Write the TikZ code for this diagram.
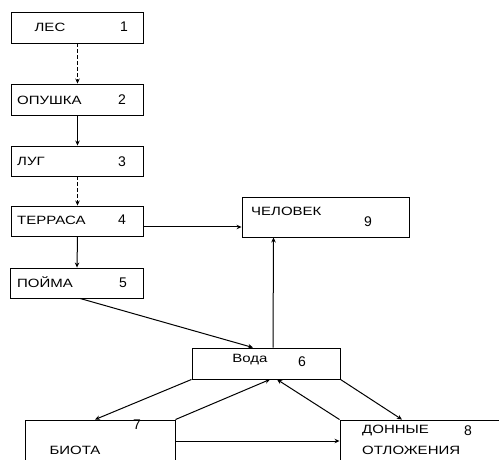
\documentclass[tikz,border=0pt]{standalone}
\usepackage{fontspec}
\setmainfont{Liberation Sans}
\newfontfamily\widefont[FakeStretch=1.25]{Liberation Sans}
\usetikzlibrary{arrows.meta}
\tikzset{
  box/.style={draw, line width=0.9pt, inner sep=0pt},
  lbl/.style={inner sep=0pt, font=\widefont\fontsize{12}{14}\selectfont},
  num/.style={inner sep=0pt, font=\fontsize{14}{16}\selectfont},
  arr/.style={line width=1pt, -{Stealth[length=5pt,width=4.5pt]}},
}
\begin{document}
\begin{tikzpicture}[x=1pt,y=-1pt]
\useasboundingbox (0,0) rectangle (499,460);
\clip (0,0) rectangle (499,460);
% boxes
\node[box, minimum width=132pt, minimum height=31pt] (n1) at (77.5,27.5) {};
\node[box, minimum width=132pt, minimum height=31pt] (n2) at (77.5,99.5) {};
\node[box, minimum width=132pt, minimum height=30pt] (n3) at (77.5,161) {};
\node[box, minimum width=132pt, minimum height=30pt] (n4) at (77.5,221) {};
\node[box, minimum width=133pt, minimum height=30pt] (n5) at (77,283) {};
\node[box, minimum width=167pt, minimum height=40pt] (n9) at (325.5,217) {};
\node[box, minimum width=148pt, minimum height=31pt] (n6) at (266,363.5) {};
\node[box, minimum width=150pt, minimum height=60pt] (n7) at (100,450) {};
\node[box, minimum width=180pt, minimum height=60pt] (n8) at (430,450) {};
% labels
\node[lbl] (t1) at (50,27) {ЛЕС};
\node[num] (d1) at (124,27) {1};
\node[lbl, anchor=west] (t2) at (17,100) {ОПУШКА};
\node[num] (d2) at (122,100) {2};
\node[lbl, anchor=west] (t3) at (17,161) {ЛУГ};
\node[num] (d3) at (122,162) {3};
\node[lbl, anchor=west] (t4) at (17,220) {ТЕРРАСА};
\node[num] (d4) at (122,220) {4};
\node[lbl, anchor=west] (t5) at (17,282) {ПОЙМА};
\node[num] (d5) at (123,283) {5};
\node[lbl, anchor=west] (t9) at (251,211) {ЧЕЛОВЕК};
\node[num] (d9) at (368,222) {9};
\node[lbl] (t6) at (250,360) {Вода};
\node[num] (d6) at (302,362) {6};
\node[lbl] (t7) at (75,450) {БИОТА};
\node[num] (d7) at (137,425) {7};
\node[lbl, anchor=west] (t8a) at (362,431) {ДОННЫЕ};
\node[lbl, anchor=west] (t8b) at (362,450) {ОТЛОЖЕНИЯ};
\node[num] (d8) at (468,431) {8};
% connectors
\draw[arr, dashed, dash pattern=on 4pt off 2pt] (n1.south) -- (n2.north);
\draw[arr] (n2.south) -- (n3.north);
\draw[arr, dashed, dash pattern=on 4pt off 2pt] (n3.south) -- (n4.north);
\draw[arr] (n4.south) -- (n5.north);
\draw[arr] ([yshift=-6pt]n4.east) -- ([yshift=-10pt]n9.west);
\draw[arr] ([xshift=3pt]n5.south) -- ([xshift=-13pt]n6.north);
\draw[arr] ([xshift=7pt]n6.north) -- ([xshift=-52pt]n9.south);
\draw[arr] (n6.south west) -- ([xshift=-5pt]n7.north);
\draw[arr] (n7.north east) -- ([xshift=4pt]n6.south);
\draw[arr] (n8.north west) -- ([xshift=11pt]n6.south);
\draw[arr] (n6.south east) -- ([xshift=-28pt]n8.north);
\draw[arr] ([yshift=9pt]n7.east) -- ([yshift=9pt]n8.west);
\end{tikzpicture}
\end{document}
